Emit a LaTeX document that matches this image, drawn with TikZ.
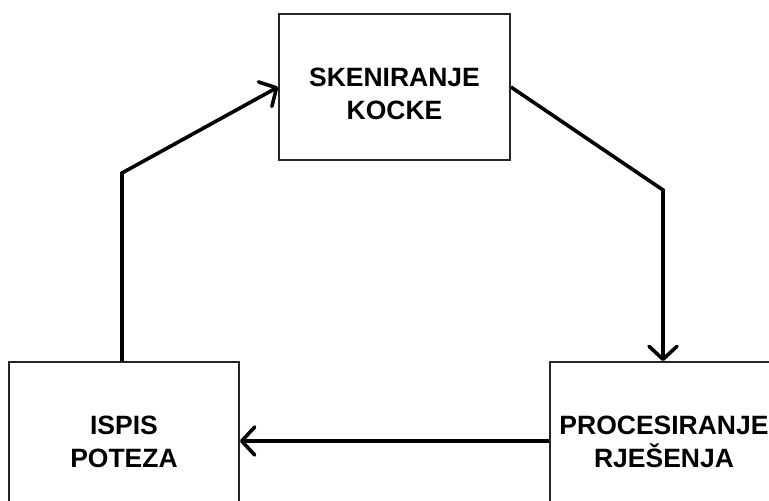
\documentclass[tikz,border=0pt]{standalone}
\usepackage{fontspec}
\setmainfont{Liberation Sans}
\usetikzlibrary{arrows.meta}
\begin{document}
\begin{tikzpicture}[x=1pt,y=-1pt,
  box/.style={draw=black!85, line width=1.8pt, minimum width=#1, inner sep=0pt},
  lbl/.style={font=\bfseries\fontsize{26.5}{33}\selectfont, align=center, inner sep=0pt},
  conn/.style={line width=3.6pt, line join=miter, -{Straight Barb[length=13pt,width=28pt,line width=3.6pt,round]}}]
\useasboundingbox (0,0) rectangle (769,501);
\clip (0,0) rectangle (769,501);
\node[box=231pt, minimum height=146pt] (top) at (394.5,87) {};
\node[box=230pt, minimum height=158pt] (left) at (124,441) {};
\node[box=230pt, minimum height=158pt] (right) at (665,441) {};
\node[lbl] (ttop) at (394.5,94) {SKENIRANJE\\KOCKE};
\node[lbl] (tleft) at (124,442) {ISPIS\\POTEZA};
\node[lbl] (tright) at (664,442) {PROCESIRANJE\\RJEŠENJA};
\coordinate (lb) at (122,173);
\coordinate (rb) at (663,190);
\draw[conn] (left.north -| lb) -- (lb) -- (top.west);
\draw[conn] (top.east) -- (rb) -- (right.north -| rb);
\draw[conn] (right.west) -- (left.east);
\end{tikzpicture}
\end{document}
